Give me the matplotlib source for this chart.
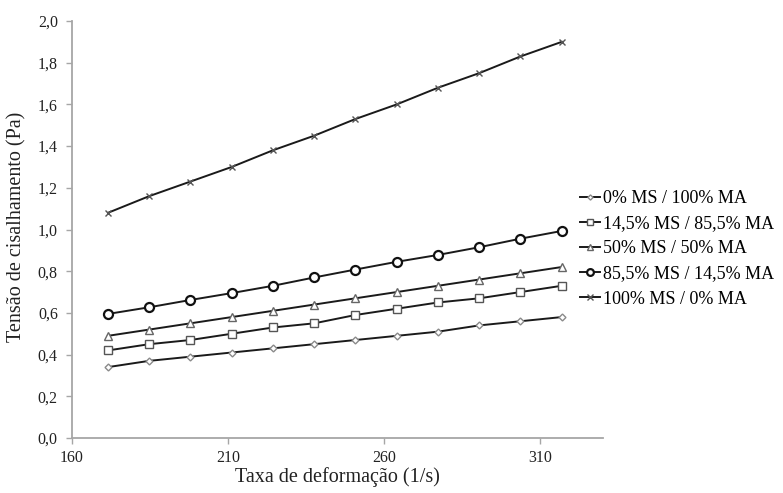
import matplotlib
matplotlib.use('Agg')
import matplotlib.pyplot as plt
from matplotlib.ticker import FuncFormatter

plt.rcParams['font.family'] = ['Liberation Serif', 'DejaVu Serif']

# taxa de deformação (1/s)
taxa = [171.6, 184.8, 198.0, 211.2, 224.4, 237.6, 250.8, 264.0, 277.2, 290.4, 303.6, 316.8]

# tensão de cisalhamento (Pa) por mistura
ms0 = [0.34, 0.37, 0.39, 0.41, 0.43, 0.45, 0.47, 0.49, 0.51, 0.54, 0.56, 0.58]
ms14 = [0.42, 0.45, 0.47, 0.50, 0.53, 0.55, 0.59, 0.62, 0.65, 0.67, 0.70, 0.73]
ms50 = [0.49, 0.52, 0.55, 0.58, 0.61, 0.64, 0.67, 0.70, 0.73, 0.76, 0.79, 0.82]
ms85 = [0.595, 0.627, 0.662, 0.695, 0.73, 0.77, 0.808, 0.845, 0.878, 0.915, 0.956, 0.993]
ms100 = [1.08, 1.16, 1.23, 1.30, 1.38, 1.45, 1.53, 1.60, 1.68, 1.75, 1.83, 1.90]

labels = ['0% MS / 100% MA', '14,5% MS / 85,5% MA', '50% MS / 50% MA',
          '85,5% MS / 14,5% MA', '100% MS / 0% MA']

fig = plt.figure(figsize=(7.83, 4.93), dpi=100)
ax = fig.add_axes([71.7 / 783, 1 - 438 / 493, (603 - 71.7) / 783, (438 - 21) / 493])

lc = '#1a1a1a'
ax.plot(taxa, ms0, color=lc, lw=1.4, marker='D', ms=3.5, mfc='white', mec='#8a8a8a', mew=1.0, label=labels[0])
ax.plot(taxa, ms14, color=lc, lw=1.4, marker='s', ms=6, mfc='white', mec='#555555', mew=1.0, label=labels[1])
ax.plot(taxa, ms50, color=lc, lw=1.4, marker='^', ms=5.5, mfc='white', mec='#666666', mew=1.0, label=labels[2])
ax.plot(taxa, ms85, color=lc, lw=1.4, marker='o', ms=6.5, mfc='white', mec='#111111', mew=1.6, label=labels[3])
ax.plot(taxa, ms100, color=lc, lw=1.4, marker='x', ms=5, mec='#555555', mew=1.0, label=labels[4])

ax.set_xlim(160, 330)
ax.set_ylim(0, 2.0)
ax.set_xticks([160, 210, 260, 310])
ax.set_yticks([0, 0.2, 0.4, 0.6, 0.8, 1.0, 1.2, 1.4, 1.6, 1.8, 2.0])
ax.yaxis.set_major_formatter(FuncFormatter(lambda v, p: ('%.1f' % v).replace('.', ',')))

for s in ['top', 'right']:
    ax.spines[s].set_visible(False)
for s in ['left', 'bottom']:
    ax.spines[s].set_color('#a6a6a6')
    ax.spines[s].set_linewidth(1.3)

ax.tick_params(axis='both', colors='#a6a6a6', labelcolor='#222222', labelsize=11.5, length=4, width=1)
ax.tick_params(axis='y', pad=6)
ax.tick_params(axis='x', pad=5)

ax.set_xlabel('Taxa de deformação (1/s)', fontsize=14.5, color='#222222')
ax.set_ylabel('Tensão de cisalhamento (Pa)', fontsize=14.5, color='#222222')
ax.xaxis.set_label_coords(0.5, -0.07)
ax.yaxis.set_label_coords(-0.085, 0.507)

fig.legend(loc='upper left', bbox_to_anchor=(580 / 783, 1 - 190 / 493), frameon=False,
           fontsize=13, handlelength=1.1, handletextpad=0.15, labelspacing=0.45,
           borderpad=0, borderaxespad=0, markerscale=0.75)

fig.savefig('out.png', dpi=100)
